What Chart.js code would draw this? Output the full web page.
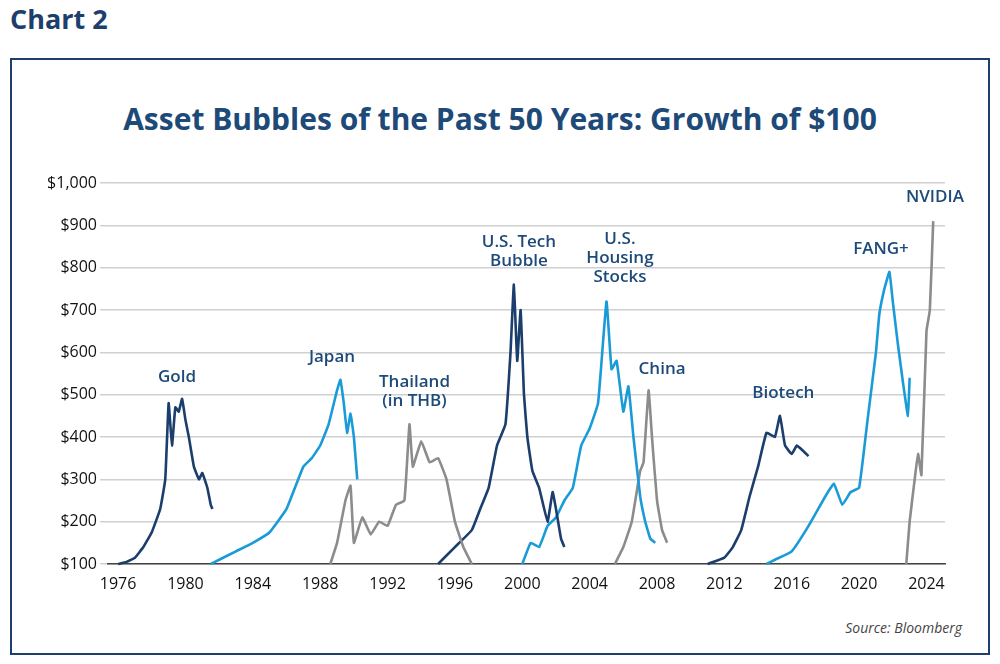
<!DOCTYPE html>
<html><head><meta charset="utf-8">
<script src="https://cdn.jsdelivr.net/npm/chart.js@4"></script>
<style>
body{margin:0;width:1000px;height:664px;background:#fff;font-family:'Open Sans',sans-serif;position:relative;overflow:hidden}
#hd{position:absolute;left:10px;top:0px;font-size:27px;font-weight:700;color:#1d3f6b}
#box{position:absolute;left:10px;top:58px;width:976px;height:593px;border:2px solid #1d3f6b}
#tt{position:absolute;left:0;top:98px;width:1000px;text-align:center;font-size:30px;font-weight:700;color:#1d4a78}
#src{position:absolute;right:38px;top:618px;font-size:14px;font-style:italic;color:#444}
canvas{position:absolute;left:0;top:0}
</style></head><body>
<div id="hd">Chart 2</div><div id="box"></div>
<div id="tt">Asset Bubbles of the Past 50 Years: Growth of $100</div>
<div id="src">Source: Bloomberg</div>
<canvas id="c" width="1000" height="664"></canvas>
<script>
var NAVY='#1b3e6c',LBLUE='#1a9bd7',GREY='#8c8c8c';
var goldX=[1976,1976.5,1977,1977.5,1978,1978.5,1978.8,1979,1979.2,1979.4,1979.6,1979.8,1980,1980.2,1980.5,1980.8,1981,1981.3,1981.5,1981.6];
var goldY=[100,105,115,140,175,230,300,480,380,470,460,490,440,400,330,300,315,280,240,230];
var japanX=[1981.5,1982,1983,1984,1985,1986,1987,1987.5,1988,1988.5,1989,1989.2,1989.4,1989.6,1989.8,1990,1990.2];
var japanY=[100,110,130,150,175,230,330,350,380,430,510,535,480,410,455,400,300];
var thaiX=[1988.6,1989,1989.5,1989.8,1990,1990.5,1991,1991.5,1992,1992.5,1993,1993.3,1993.5,1994,1994.5,1995,1995.5,1996,1996.5,1997];
var thaiY=[100,150,250,285,150,210,170,200,190,240,250,430,330,390,340,350,300,200,140,100];
var techX=[1995,1996,1997,1997.5,1998,1998.5,1999,1999.3,1999.5,1999.7,1999.9,2000.1,2000.3,2000.6,2001,2001.5,2001.8,2002,2002.3,2002.5];
var techY=[100,140,180,230,280,380,430,600,760,580,700,500,400,320,280,200,270,230,160,140];
var houseX=[2000,2000.5,2001,2001.5,2002,2002.5,2003,2003.5,2004,2004.5,2005,2005.3,2005.6,2006,2006.3,2006.6,2007,2007.3,2007.6,2007.9];
var houseY=[100,150,140,190,210,250,280,380,420,480,720,560,580,460,520,400,260,200,160,150];
var chinaX=[2005.5,2006,2006.5,2007,2007.2,2007.5,2007.7,2008,2008.3,2008.5,2008.6];
var chinaY=[100,140,200,320,340,510,400,250,180,160,150];
var bioX=[2011,2012,2012.5,2013,2013.5,2014,2014.5,2015,2015.3,2015.6,2016,2016.3,2016.6,2017];
var bioY=[100,115,140,180,260,330,410,400,450,380,360,380,370,355];
var fangX=[2014.5,2015,2016,2017,2018,2018.5,2019,2019.5,2020,2020.5,2021,2021.2,2021.5,2021.8,2022,2022.3,2022.6,2022.9,2023];
var fangY=[100,110,130,190,260,290,240,270,280,440,600,690,750,790,720,620,530,450,540];
var nvdaX=[2022.8,2023,2023.3,2023.5,2023.7,2024,2024.2,2024.4];
var nvdaY=[100,200,300,360,310,650,700,910];
var yTicks=[100,200,300,400,500,600,700,800,900,1000];
var labels=[
  {t:['Gold'],x:1979.5,y:521},{t:['Japan'],x:1988.7,y:568},{t:['Thailand','(in THB)'],x:1993.6,y:464},
  {t:['U.S. Tech','Bubble'],x:1999.8,y:795},{t:['U.S.','Housing','Stocks'],x:2005.8,y:757},
  {t:['China'],x:2008.3,y:540},{t:['Biotech'],x:2015.5,y:483},{t:['FANG+'],x:2021.3,y:823},{t:['NVIDIA'],x:2024.5,y:946}
];
function pts(xs,ys){return xs.map(function(x,i){return {x:x,y:ys[i]};});}
function ds(xs,ys,c){return {data:pts(xs,ys),borderColor:c,borderWidth:2.6,pointRadius:0,tension:0.1,fill:false};}
var labelPlugin={id:'lbl',afterDatasetsDraw:function(ch){
  var c=ch.ctx,xs=ch.scales.x,ys=ch.scales.y;
  c.save();c.font='600 17px "Open Sans"';c.fillStyle='#1d4a78';c.textAlign='center';c.textBaseline='bottom';
  labels.forEach(function(l){var px=xs.getPixelForValue(l.x),py=ys.getPixelForValue(l.y);
    l.t.forEach(function(s,i){c.fillText(s,px,py+(i-l.t.length+1)*19);});});
  c.restore();}};
new Chart(document.getElementById('c'),{
  type:'line',
  data:{datasets:[ds(goldX,goldY,NAVY),ds(japanX,japanY,LBLUE),ds(thaiX,thaiY,GREY),ds(techX,techY,NAVY),
    ds(houseX,houseY,LBLUE),ds(chinaX,chinaY,GREY),ds(bioX,bioY,NAVY),ds(fangX,fangY,LBLUE),ds(nvdaX,nvdaY,GREY)]},
  options:{responsive:false,animation:false,clip:false,
    layout:{padding:{left:30,right:55,top:183,bottom:70}},
    plugins:{legend:{display:false},tooltip:{enabled:false}},
    scales:{
      x:{type:'linear',min:1975.4,max:2025.1,afterFit:function(s){s.height=30;},
        afterBuildTicks:function(s){s.ticks=[];for(var y=1976;y<=2024;y+=4)s.ticks.push({value:y});},
        ticks:{color:'#111',font:{size:16,family:'Open Sans'},callback:function(v){return String(v);}},
        grid:{display:false},border:{color:'#444',width:1.5}},
      y:{min:100,max:1000,afterFit:function(s){s.width=78;},
        afterBuildTicks:function(s){s.ticks=yTicks.map(function(v){return {value:v};});},
        ticks:{color:'#111',font:{size:16,family:'Open Sans'},callback:function(v){return '$'+v.toLocaleString('en-US');}},
        grid:{color:'#d0d0d0',lineWidth:1.5},border:{display:false}}
    }},
  plugins:[labelPlugin]
});
</script></body></html>
